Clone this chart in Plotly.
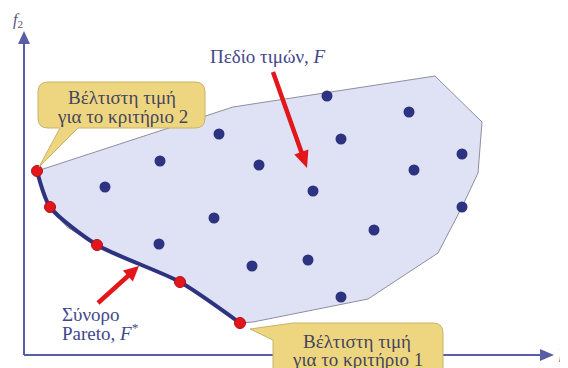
import plotly.graph_objects as go

W, H = 568, 368
OFF = 8  # page body margin of the browser

# ---- data (f1, f2 in chart units; f2 grows upward) ----
dots_f1 = [105, 160, 214, 159, 219, 259, 252, 308, 313, 327, 341, 341, 374, 409, 414, 462, 462]
dots_f2 = [181, 207, 150, 124, 234, 203, 102, 108, 177, 272, 229, 71, 138, 256, 198, 214, 161]

pareto_f1 = [37, 50, 97, 180, 240]
pareto_f2 = [197, 161, 123, 86, 45]

region_f1 = [37, 233, 435, 482, 478, 462, 438, 368, 253, 240, 180, 140, 97, 67, 50, 37]
region_f2 = [197, 261, 292, 246, 195, 161, 115, 69, 46, 45, 86, 105, 123, 141, 161, 197]

label_region = "Πεδίο τιμών, <i>F</i>"
label_front = ["Σύνορο", "Pareto, <i>F</i><sup>*</sup>"]
label_best2 = ["Βέλτιστη τιμή", "για το κριτήριο 2"]
label_best1 = ["Βέλτιστη τιμή", "για το κριτήριο 1"]

NAVY = "#2d3380"
RED = "#e3161c"
AXIS = "#5a5da6"
TXT = "#43478a"
BTXT = "#45455c"
SERIF = "Liberation Serif"


def y(py):
    return H - py


def pt(px, py):
    return f"{px},{y(py)}"


fig = go.Figure()

fig.add_trace(go.Scatter(
    x=region_f1, y=region_f2, mode="lines", fill="toself",
    fillcolor="#dfe2f4", line=dict(color="#8e8ea0", width=1),
    hoverinfo="skip", showlegend=False))

fig.add_trace(go.Scatter(
    x=dots_f1, y=dots_f2, mode="markers",
    marker=dict(size=11, color=NAVY, line=dict(width=0)),
    showlegend=False))

fig.add_trace(go.Scatter(
    x=pareto_f1, y=pareto_f2, mode="lines",
    line=dict(color=NAVY, width=4, shape="spline", smoothing=0.7),
    showlegend=False))

fig.add_trace(go.Scatter(
    x=pareto_f1, y=pareto_f2, mode="markers",
    marker=dict(size=11, color=RED, line=dict(width=1, color="#b01015")),
    showlegend=False))

shapes = []


def line_shape(x0, y0, x1, y1, color, width):
    return dict(type="line", xref="x", yref="y", x0=x0, y0=y(y0), x1=x1, y1=y(y1),
                line=dict(color=color, width=width), layer="above")


def head(tipx, tipy, bx, by, half, color):
    dx, dy = tipx - bx, tipy - by
    L = (dx * dx + dy * dy) ** 0.5
    nx, ny = -dy / L * half, dx / L * half
    p = f"M {pt(tipx, tipy)} L {pt(bx + nx, by + ny)} L {pt(bx - nx, by - ny)} Z"
    return dict(type="path", xref="x", yref="y", path=p, fillcolor=color,
                line=dict(color=color, width=0), layer="above")


def arrow(x0, y0, x1, y1, color, width, hl, half):
    dx, dy = x1 - x0, y1 - y0
    L = (dx * dx + dy * dy) ** 0.5
    bx, by = x1 - dx / L * hl, y1 - dy / L * hl
    return [line_shape(x0, y0, bx + dx / L * 2, by + dy / L * 2, color, width),
            head(x1, y1, bx, by, half, color)]


# axes
shapes += arrow(24, 355, 24, 31, AXIS, 2, 13, 6)
shapes += arrow(24, 355, 554, 355, AXIS, 2, 14, 6)

# callout bubbles
top_bubble = (f"M {pt(48,82)} L {pt(195,82)} Q {pt(205,82)} {pt(205,92)} "
              f"L {pt(205,118)} Q {pt(205,128)} {pt(195,128)} L {pt(78,128)} "
              f"L {pt(39,167)} L {pt(60,128)} L {pt(48,128)} Q {pt(38,128)} {pt(38,118)} "
              f"L {pt(38,92)} Q {pt(38,82)} {pt(48,82)} Z")
bot_bubble = (f"M {pt(293,323)} L {pt(433,323)} Q {pt(443,323)} {pt(443,333)} "
              f"L {pt(443,395)} L {pt(273,395)} L {pt(273,340)} L {pt(250,329)} Z")
for p in (top_bubble, bot_bubble):
    shapes.append(dict(type="path", xref="x", yref="y", path=p,
                       fillcolor="#eed681", line=dict(color="#c8b266", width=1),
                       layer="above"))

# red arrows
shapes += arrow(273, 72, 307, 168, RED, 4.5, 17, 7.5)
shapes += arrow(98, 303, 139, 266, RED, 4.5, 15, 7.5)

annotations = [
    dict(x=268, y=y(56), text=label_region, font=dict(family=SERIF, size=19, color=TXT)),
    dict(x=60, y=y(314), text=label_front[0], xanchor="left",
         font=dict(family=SERIF, size=19, color=TXT)),
    dict(x=60, y=y(332), text=label_front[1], xanchor="left",
         font=dict(family=SERIF, size=19, color=TXT)),
    dict(x=122, y=y(97), text=label_best2[0], font=dict(family=SERIF, size=19, color=BTXT)),
    dict(x=122, y=y(116), text=label_best2[1], font=dict(family=SERIF, size=19, color=BTXT)),
    dict(x=357, y=y(341), text=label_best1[0], font=dict(family=SERIF, size=19, color=BTXT)),
    dict(x=357, y=y(359), text=label_best1[1], font=dict(family=SERIF, size=19, color=BTXT)),
    dict(x=18, y=y(20), text="<i>f</i><sub>2</sub>", font=dict(family=SERIF, size=16, color="#55557a")),
    dict(x=557, y=y(353), text="<i>f</i><sub>1</sub>", xanchor="left",
         font=dict(family=SERIF, size=18, color="#55557a")),
]
for a in annotations:
    a.update(xref="x", yref="y", showarrow=False)
    a.setdefault("xanchor", "center")
    a.setdefault("yanchor", "middle")

fig.update_layout(
    width=W, height=H, autosize=False,
    margin=dict(l=0, r=0, t=0, b=0, pad=0),
    paper_bgcolor="white", plot_bgcolor="white",
    xaxis=dict(range=[OFF, W + OFF], visible=False, fixedrange=True),
    yaxis=dict(range=[-OFF, H - OFF], visible=False, fixedrange=True),
    shapes=shapes, annotations=annotations, showlegend=False,
)

fig.write_html("out.html")
